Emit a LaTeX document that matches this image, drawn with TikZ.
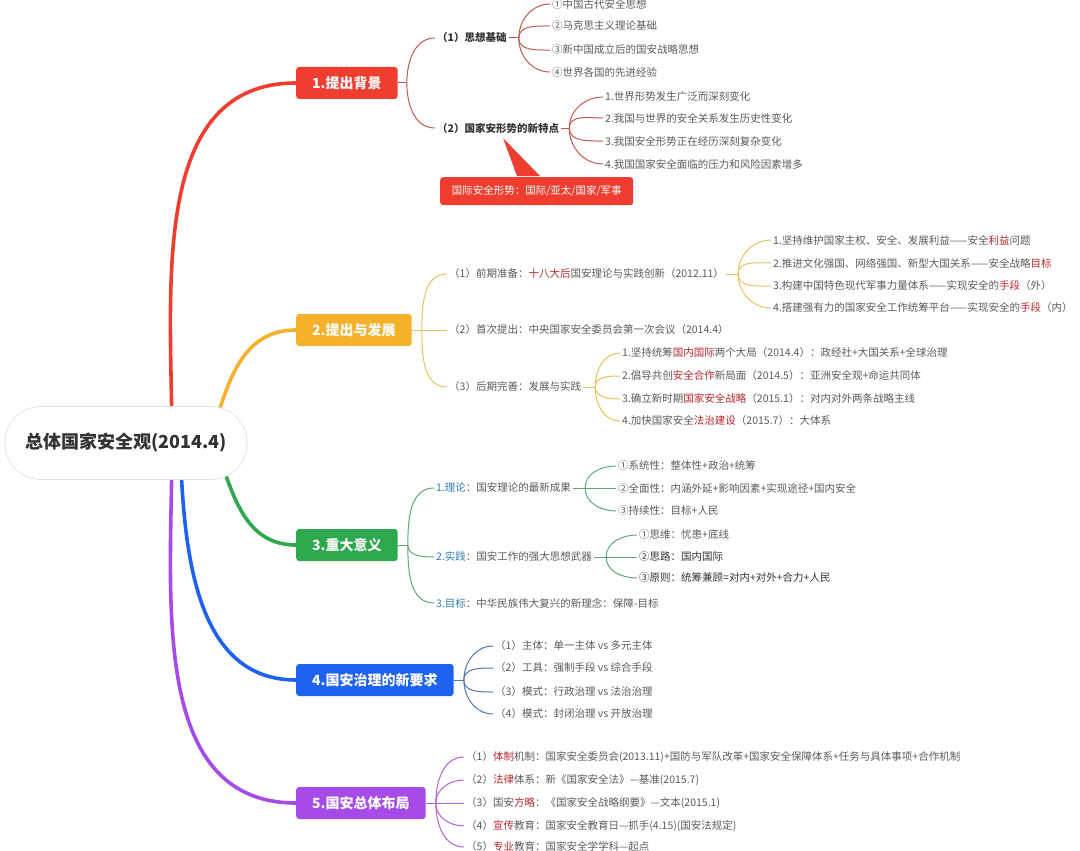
\documentclass[tikz,border=0pt]{standalone}
\usepackage{fontspec}
\setmainfont{Noto Sans CJK SC}
\usetikzlibrary{backgrounds}
\definecolor{cred}{HTML}{EF3E30}
\definecolor{corange}{HTML}{F5B12B}
\definecolor{cgreen}{HTML}{2EA84F}
\definecolor{cblue}{HTML}{1F62EF}
\definecolor{cpurple}{HTML}{A64BE8}
\definecolor{tred}{HTML}{C2594E}
\definecolor{torange}{HTML}{E6C35E}
\definecolor{tgreen}{HTML}{5DA97C}
\definecolor{tblue}{HTML}{5576A8}
\definecolor{tpurple}{HTML}{B460D8}
\definecolor{txtgray}{HTML}{5A5A5A}
\definecolor{txtdark}{HTML}{333333}
\definecolor{hlred}{HTML}{B8262C}
\definecolor{lblue}{HTML}{2F7DB5}
\definecolor{rootborder}{HTML}{E2E2E2}
\newcommand{\hlr}[1]{\textcolor{hlred}{#1}}
\newcommand{\lb}[1]{\textcolor{lblue}{#1}}
\begin{document}
\begin{tikzpicture}[x=1pt,y=-1pt,
  rootnode/.style={draw=rootborder, line width=0.8pt, fill=white, rounded corners=36pt,
    minimum width=242pt, minimum height=73pt, text=txtdark,
    font=\fontsize{18}{20}\selectfont\bfseries},
  mainbox/.style={anchor=west, rectangle, rounded corners=3pt, minimum height=32pt,
    inner xsep=16pt, inner ysep=0pt, text=white, font=\fontsize{14}{16}\selectfont\bfseries},
  leaf/.style={anchor=west, inner xsep=2pt, inner ysep=1pt, text=txtgray,
    font=\fontsize{10.5}{12}\selectfont},
  subb/.style={leaf, text=txtdark, font=\fontsize{10.5}{12}\selectfont\bfseries},
  thick/.style={line width=3.6pt, line cap=round},
  thin/.style={line width=1pt},
]
\useasboundingbox (0,0) rectangle (1080,851);

% root and main boxes
\node[rootnode] (root) at (126,443) {总体国家安全观(2014.4)};
\node[mainbox, fill=cred] (b1) at (296,83) {1.提出背景};
\node[mainbox, fill=corange] (b2) at (296,330) {2.提出与发展};
\node[mainbox, fill=cgreen] (b3) at (296,545) {3.重大意义};
\node[mainbox, fill=cblue] (b4) at (296,680) {4.国安治理的新要求};
\node[mainbox, fill=cpurple] (b5) at (296,803) {5.国安总体布局};

% branch 1
\node[subb] (a1) at (435,38) {（1）思想基础};
\node[subb] (a2) at (435,128) {（2）国家安形势的新特点};
\node[leaf] (a11) at (550,4) {①中国古代安全思想};
\node[leaf] (a12) at (550,26) {②马克思主义理论基础};
\node[leaf] (a13) at (550,50) {③新中国成立后的国安战略思想};
\node[leaf] (a14) at (550,72) {④世界各国的先进经验};
\node[leaf] (a21) at (603,97) {1.世界形势发生广泛而深刻变化};
\node[leaf] (a22) at (603,118) {2.我国与世界的安全关系发生历史性变化};
\node[leaf] (a23) at (603,141) {3.我国安全形势正在经历深刻复杂变化};
\node[leaf] (a24) at (603,164) {4.我国国家安全面临的压力和风险因素增多};
\node[anchor=north west, fill=cred, rounded corners=3pt, minimum width=193pt, minimum height=28pt,
  inner sep=0pt, text=white, font=\fontsize{10.5}{12}\selectfont] (call) at (440,177)
  {国际安全形势：国际/亚太/国家/军事};
\coordinate (tip) at (503,138);
\fill[cred] (tip) -- ([xshift=77pt,yshift=1pt]call.north west) -- ([xshift=100pt,yshift=1pt]call.north west) -- cycle;

% branch 2
\node[leaf] (d1) at (447,274) {（1）前期准备：\hlr{十八大后}国安理论与实践创新（2012.11）};
\node[leaf] (d2) at (447,330) {（2）首次提出：中央国家安全委员会第一次会议（2014.4）};
\node[leaf] (d3) at (447,387) {（3）后期完善：发展与实践};
\node[leaf] (d11) at (771,240) {1.坚持维护国家主权、安全、发展利益——安全\hlr{利益}问题};
\node[leaf] (d12) at (771,263) {2.推进文化强国、网络强国、新型大国关系——安全战略\hlr{目标}};
\node[leaf] (d13) at (771,286) {3.构建中国特色现代军事力量体系——实现安全的\hlr{手段}（外）};
\node[leaf] (d14) at (771,308) {4.搭建强有力的国家安全工作统筹平台——实现安全的\hlr{手段}（内）};
\node[leaf] (d31) at (620,353) {1.坚持统筹\hlr{国内国际}两个大局（2014.4）：政经社+大国关系+全球治理};
\node[leaf] (d32) at (620,376) {2.倡导共创\hlr{安全合作}新局面（2014.5）：亚洲安全观+命运共同体};
\node[leaf] (d33) at (620,399) {3.确立新时期\hlr{国家安全战略}（2015.1）：对内对外两条战略主线};
\node[leaf] (d34) at (620,421) {4.加快国家安全\hlr{法治建设}（2015.7）：大体系};

% branch 3
\node[leaf] (g1) at (434,488) {\lb{1.理论}：国安理论的最新成果};
\node[leaf] (g2) at (434,557) {\lb{2.实践}：国安工作的强大思想武器};
\node[leaf] (g3) at (434,603) {\lb{3.目标}：中华民族伟大复兴的新理念：保障-目标};
\node[leaf] (g11) at (616,466) {①系统性：整体性+政治+统筹};
\node[leaf] (g12) at (616,488) {②全面性：内涵外延+影响因素+实现途径+国内安全};
\node[leaf] (g13) at (616,511) {③持续性：目标+人民};
\node[leaf] (g21) at (637,535) {①思维：忧患+底线};
\node[leaf, text=txtdark] (g22) at (637,557) {②思路：国内国际};
\node[leaf, text=txtdark] (g23) at (637,578) {③原则：统筹兼顾=对内+对外+合力+人民};

% branch 4
\node[leaf] (k1) at (493,646) {（1）主体：单一主体 vs 多元主体};
\node[leaf] (k2) at (493,668) {（2）工具：强制手段 vs 综合手段};
\node[leaf] (k3) at (493,692) {（3）模式：行政治理 vs 法治治理};
\node[leaf] (k4) at (493,714) {（4）模式：封闭治理 vs 开放治理};

% branch 5
\node[leaf] (m1) at (464,757) {（1）\hlr{体制}机制：国家安全委员会(2013.11)+国防与军队改革+国家安全保障体系+任务与具体事项+合作机制};
\node[leaf] (m2) at (464,780) {（2）\hlr{法律}体系：新《国家安全法》—基准(2015.7)};
\node[leaf] (m3) at (464,803) {（3）国安\hlr{方略}：《国家安全战略纲要》—文本(2015.1)};
\node[leaf] (m4) at (464,826) {（4）\hlr{宣传}教育：国家安全教育日—抓手(4.15)(国安法规定)};
\node[leaf] (m5) at (464,847) {（5）\hlr{专业}教育：国家安全学学科—起点};

\begin{pgfonlayer}{background}
% root branches
\draw[thick, cred] ([xshift=46pt]root.center) to[out=90,in=180] (b1.west);
\draw[thick, corange] ([xshift=74pt,yshift=-30pt]root.center) to[out=70,in=180] (b2.west);
\draw[thick, cgreen] ([xshift=77pt,yshift=30pt]root.center) to[out=-65,in=180] (b3.west);
\draw[thick, cblue] ([xshift=54pt]root.center) to[out=-88,in=180] (b4.west);
\draw[thick, cpurple] ([xshift=46pt]root.center) to[out=-90,in=180] (b5.west);

% branch 1 connectors
\draw[thin, tred] (b1.east) -- ++(9,0) coordinate (f1);
\draw[thin, tred] (f1) to[out=90,in=180] (a1.west);
\draw[thin, tred] (f1) to[out=-90,in=180] (a2.west);
\draw[thin, tred] (a1.east) -- ++(10,0) coordinate (f11);
\draw[thin, tred] (f11) to[out=90,in=180] (a11.west);
\draw[thin, tred] (f11) to[out=90,in=180] (a12.west);
\draw[thin, tred] (f11) to[out=-90,in=180] (a13.west);
\draw[thin, tred] (f11) to[out=-90,in=180] (a14.west);
\draw[thin, tred] (a2.east) -- ++(8,0) coordinate (f12);
\draw[thin, tred] (f12) to[out=90,in=180] (a21.west);
\draw[thin, tred] (f12) to[out=90,in=180] (a22.west);
\draw[thin, tred] (f12) to[out=-90,in=180] (a23.west);
\draw[thin, tred] (f12) to[out=-90,in=180] (a24.west);

% branch 2 connectors
\draw[thin, torange] (b2.east) -- ++(10,0) coordinate (f2);
\draw[thin, torange] (f2) to[out=90,in=180] (d1.west);
\draw[thin, torange] (f2) -- (d2.west);
\draw[thin, torange] (f2) to[out=-90,in=180] (d3.west);
\draw[thin, torange] (d1.east) -- ++(12,0) coordinate (f21);
\draw[thin, torange] (f21) to[out=90,in=180] (d11.west);
\draw[thin, torange] (f21) to[out=90,in=180] (d12.west);
\draw[thin, torange] (f21) to[out=-90,in=180] (d13.west);
\draw[thin, torange] (f21) to[out=-90,in=180] (d14.west);
\draw[thin, torange] (d3.east) -- ++(12,0) coordinate (f23);
\draw[thin, torange] (f23) to[out=90,in=180] (d31.west);
\draw[thin, torange] (f23) to[out=90,in=180] (d32.west);
\draw[thin, torange] (f23) to[out=-90,in=180] (d33.west);
\draw[thin, torange] (f23) to[out=-90,in=180] (d34.west);

% branch 3 connectors
\draw[thin, tgreen] (b3.east) -- ++(10,0) coordinate (f3);
\draw[thin, tgreen] (f3) to[out=90,in=180] (g1.west);
\draw[thin, tgreen] (f3) to[out=-90,in=180] (g2.west);
\draw[thin, tgreen] (f3) to[out=-90,in=180] (g3.west);
\draw[thin, tgreen] (g1.east) -- ++(12,0) coordinate (f31);
\draw[thin, tgreen] (f31) to[out=90,in=180] (g11.west);
\draw[thin, tgreen] (f31) -- (g12.west);
\draw[thin, tgreen] (f31) to[out=-90,in=180] (g13.west);
\draw[thin, tgreen] (g2.east) -- ++(12,0) coordinate (f32);
\draw[thin, tgreen] (f32) to[out=90,in=180] (g21.west);
\draw[thin, tgreen] (f32) -- (g22.west);
\draw[thin, tgreen] (f32) to[out=-90,in=180] (g23.west);

% branch 4 connectors
\draw[thin, tblue] (b4.east) -- ++(10,0) coordinate (f4);
\draw[thin, tblue] (f4) to[out=90,in=180] (k1.west);
\draw[thin, tblue] (f4) to[out=90,in=180] (k2.west);
\draw[thin, tblue] (f4) to[out=-90,in=180] (k3.west);
\draw[thin, tblue] (f4) to[out=-90,in=180] (k4.west);

% branch 5 connectors
\draw[thin, tpurple] (b5.east) -- ++(10,0) coordinate (f5);
\draw[thin, tpurple] (f5) to[out=90,in=180] (m1.west);
\draw[thin, tpurple] (f5) to[out=90,in=180] (m2.west);
\draw[thin, tpurple] (f5) -- (m3.west);
\draw[thin, tpurple] (f5) to[out=-90,in=180] (m4.west);
\draw[thin, tpurple] (f5) to[out=-90,in=180] (m5.west);
\end{pgfonlayer}
\end{tikzpicture}
\end{document}
